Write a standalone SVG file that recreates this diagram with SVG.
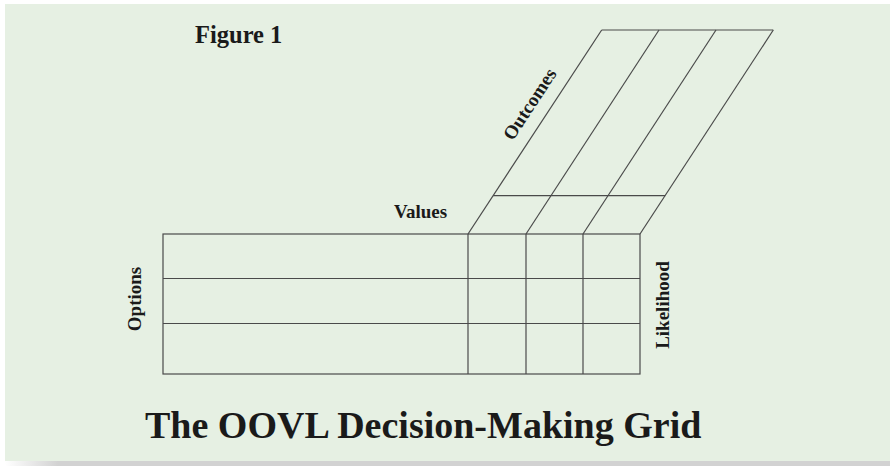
<svg xmlns="http://www.w3.org/2000/svg" width="890" height="466" viewBox="0 0 890 466">
  <defs>
    <linearGradient id="shadow" x1="0" y1="0" x2="1" y2="0">
      <stop offset="0" stop-color="#ffffff"/>
      <stop offset="0.06" stop-color="#d2d2d2"/>
      <stop offset="1" stop-color="#d2d2d2"/>
    </linearGradient>
    <style>
      .grid { fill: none; stroke: #4a4a4a; stroke-width: 1.2; }
      .lbl { font-family: "Liberation Serif", "Times New Roman", serif; font-weight: bold; fill: #1a1a1a; }
    </style>
  </defs>
  <rect x="0" y="0" width="890" height="466" fill="#ffffff"/>
  <rect x="5" y="461" width="885" height="5" fill="url(#shadow)"/>
  <rect x="5" y="4" width="885" height="457" fill="#e6f0e3"/>

  <g id="connectors" class="grid">
    <!-- front grid -->
    <rect x="163" y="234" width="477" height="140"/>
    <line x1="163" y1="278.5" x2="640" y2="278.5"/>
    <line x1="163" y1="323.5" x2="640" y2="323.5"/>
    <line x1="468" y1="234" x2="468" y2="374"/>
    <line x1="526" y1="234" x2="526" y2="374"/>
    <line x1="583" y1="234" x2="583" y2="374"/>
    <!-- slanted top -->
    <line x1="601.7" y1="30" x2="773.3" y2="30"/>
    <line x1="493.2" y1="195.7" x2="665.2" y2="195.7"/>
    <line x1="468" y1="234" x2="601.7" y2="30"/>
    <line x1="526" y1="234" x2="659" y2="30"/>
    <line x1="583" y1="234" x2="716" y2="30"/>
    <line x1="640" y1="234" x2="773.3" y2="30"/>
  </g>

  <g id="figure-label">
    <text class="lbl" x="195" y="43" font-size="24.5">Figure 1</text>
  </g>
  <g id="values">
    <text class="lbl" x="394" y="218" font-size="19">Values</text>
  </g>
  <g id="outcomes">
    <text class="lbl" font-size="19" text-anchor="middle" transform="translate(535,107.5) rotate(-56.8)">Outcomes</text>
  </g>
  <g id="options">
    <text class="lbl" font-size="19" text-anchor="middle" transform="translate(141,299) rotate(-90)">Options</text>
  </g>
  <g id="likelihood">
    <text class="lbl" font-size="19" text-anchor="middle" transform="translate(669,305) rotate(-90)">Likelihood</text>
  </g>
  <g id="title">
    <text class="lbl" x="145" y="438" font-size="38">The OOVL Decision-Making Grid</text>
  </g>
</svg>
